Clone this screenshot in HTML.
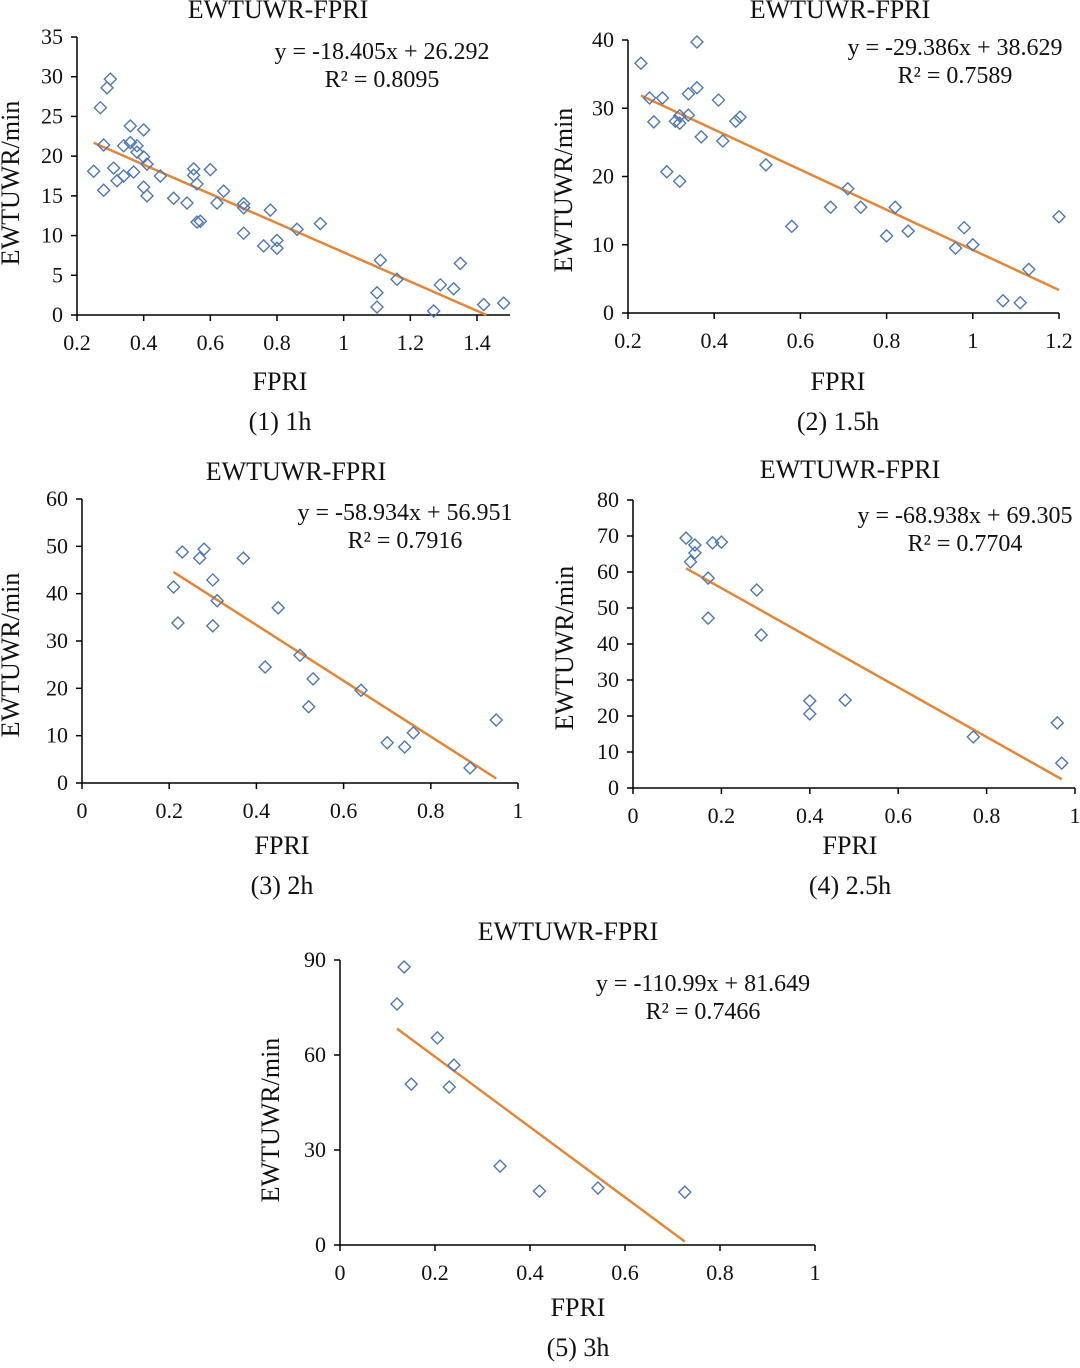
<!DOCTYPE html>
<html><head><meta charset="utf-8"><style>
html,body{margin:0;padding:0;background:#fff;}
svg text{font-family:"Liberation Serif",serif;fill:#111;}
</style></head><body>
<svg id="s" width="1080" height="1363" viewBox="0 0 1080 1363"></svg>
<script>
// Chart 1 (1h)
const x1 = [0.25,0.27,0.28,0.28,0.29,0.30,0.31,0.32,0.34,0.34,0.36,0.36,0.37,0.38,0.38,0.40,0.40,0.40,0.41,0.41,0.45,0.49,0.53,0.55,0.55,0.56,0.56,0.57,0.60,0.62,0.64,0.70,0.70,0.70,0.76,0.78,0.80,0.80,0.86,0.93,1.11,1.10,1.10,1.16,1.27,1.29,1.33,1.35,1.42,1.48];
const y1 = [18.1,26.1,21.4,15.7,28.6,29.7,18.5,16.9,21.3,17.5,23.8,21.7,18.0,21.3,20.5,23.3,19.9,16.1,15.0,19.0,17.5,14.7,14.1,18.4,17.6,11.7,16.5,11.8,18.3,14.1,15.6,10.3,14.0,13.5,8.7,13.2,9.4,8.4,10.8,11.5,6.9,2.8,1.0,4.5,0.5,3.8,3.3,6.5,1.3,1.5];
const xt1 = [0.2,0.4,0.6,0.8,1,1.2,1.4];
const yt1 = [0,5,10,15,20,25,30,35];
const fit1 = [-18.405, 26.292];
// Chart 2 (1.5h)
const x2 = [0.23,0.25,0.26,0.28,0.29,0.31,0.32,0.32,0.32,0.34,0.34,0.36,0.36,0.37,0.41,0.42,0.45,0.46,0.52,0.58,0.67,0.71,0.74,0.80,0.82,0.85,0.96,0.98,1.00,1.07,1.11,1.13,1.20];
const y2 = [36.6,31.5,28.0,31.5,20.7,28.1,28.9,27.8,19.3,32.1,29.0,33.0,39.7,25.8,31.2,25.2,28.1,28.7,21.7,12.7,15.5,18.2,15.5,11.3,15.5,12.0,9.5,12.5,10.0,1.8,1.5,6.4,14.1];
const xt2 = [0.2,0.4,0.6,0.8,1,1.2];
const yt2 = [0,10,20,30,40];
const fit2 = [-29.386, 38.629];
// Chart 3 (2h)
const x3 = [0.21,0.22,0.23,0.27,0.28,0.30,0.30,0.31,0.37,0.42,0.45,0.50,0.52,0.53,0.64,0.70,0.74,0.76,0.89,0.95];
const y3 = [41.4,33.8,48.8,47.5,49.4,42.9,33.2,38.5,47.5,24.5,37.0,27.0,16.1,22.0,19.6,8.5,7.6,10.6,3.2,13.3];
const xt3 = [0,0.2,0.4,0.6,0.8,1];
const yt3 = [0,10,20,30,40,50,60];
const fit3 = [-58.934, 56.951];
// Chart 4 (2.5h)
const x4 = [0.12,0.13,0.14,0.14,0.17,0.17,0.18,0.20,0.28,0.29,0.40,0.40,0.48,0.77,0.96,0.97];
const y4 = [69.4,62.8,67.5,65.3,58.3,47.2,68.1,68.3,55.0,42.5,20.6,24.2,24.4,14.2,18.1,6.9];
const xt4 = [0,0.2,0.4,0.6,0.8,1];
const yt4 = [0,10,20,30,40,50,60,70,80];
const fit4 = [-68.938, 69.305];
// Chart 5 (3h)
const x5 = [0.12,0.135,0.15,0.205,0.23,0.24,0.337,0.42,0.543,0.726];
const y5 = [76.1,87.8,50.8,65.4,49.9,56.8,24.9,17.0,18.0,16.7];
const xt5 = [0,0.2,0.4,0.6,0.8,1];
const yt5 = [0,30,60,90];
const fit5 = [-110.99, 81.649];

const NS="http://www.w3.org/2000/svg";
const svg=document.getElementById('s');
function el(tag,attrs,parent){const e=document.createElementNS(NS,tag);for(const k in attrs)e.setAttribute(k,attrs[k]);(parent||svg).appendChild(e);return e;}
function txt(parent,x,y,s,size,anchor,rot){const t=el('text',{x:x,y:y,'font-size':size,'text-anchor':anchor||'middle'},parent);if(rot)t.setAttribute('transform','rotate(-90 '+x+' '+y+')');t.textContent=s;return t;}

function chart(id,c){
  const g=el('g',{});
  
  
  const X=v=>c.px0+(v-c.xmin)*(c.px1-c.px0)/(c.xmax-c.xmin);
  const Y=v=>c.py0-(v-c.ymin)*(c.py0-c.py1)/(c.ymax-c.ymin);
  const axR=c.axR||c.px1;
  const ax=el('path',{d:`M${c.px0} ${c.py1} L${c.px0} ${c.py0} L${axR} ${c.py0}`,stroke:'#000','stroke-width':1.5,fill:'none'},g);
  
  
  c.yt.forEach(v=>{const y=Y(v);el('line',{x1:c.px0-6,x2:c.px0,y1:y,y2:y,stroke:'#000','stroke-width':1.5},g);
    const t=txt(g,c.px0-14,y+7,String(v),22,'end');});
  c.xt.forEach(v=>{const x=X(v);el('line',{x1:x,x2:x,y1:c.py0,y2:c.py0+6,stroke:'#000','stroke-width':1.5},g);
    const t=txt(g,x,c.py0+35,String(v),22,'middle');});
  let xb=Math.max(...c.xs); const x0=-c.fit[1]/c.fit[0]; if(xb>x0)xb=x0;
  let xaa=Math.min(...c.xs);
  const ln=el('line',{x1:X(xaa),y1:Y(c.fit[0]*xaa+c.fit[1]),x2:X(xb),y2:Y(c.fit[0]*xb+c.fit[1]),stroke:'#e2873a','stroke-width':2.5},g);
  
  
  c.xs.forEach((v,i)=>{const x=X(v),y=Y(c.ys[i]);
    const p=el('path',{d:`M${x} ${y-6} L${x+6} ${y} L${x} ${y+6} L${x-6} ${y} Z`,fill:'none',stroke:'#4f77b3','stroke-width':1.4},g);
    
    });
  let t;
  t=txt(g,c.title[0],c.title[1],'EWTUWR-FPRI',26);
  t=txt(g,c.eq[0],c.eq[1],c.eqs,24);
  t=txt(g,c.eq[0],c.eq[1]+28,c.r2,24);
  t=txt(g,c.yl[0],c.yl[1],'EWTUWR/min',26,'middle',true);
  t=txt(g,c.xl[0],c.xl[1],'FPRI',26);
  t=txt(g,c.xl[0],c.xl[1]+40,c.cap,26);
}
chart(1,{xs:x1,ys:y1,xt:xt1,yt:yt1,fit:fit1,xmin:0.2,xmax:1.4,px0:77,px1:477,axR:510,ymin:0,ymax:35,py0:315,py1:37,
  title:[278,18],eq:[382,59],eqs:'y = -18.405x + 26.292',r2:'R² = 0.8095',yl:[19,183],xl:[280,390],cap:'(1) 1h'});
chart(2,{xs:x2,ys:y2,xt:xt2,yt:yt2,fit:fit2,xmin:0.2,xmax:1.2,px0:628,px1:1059,ymin:0,ymax:40,py0:313,py1:40,
  title:[840,18],eq:[955,55],eqs:'y = -29.386x + 38.629',r2:'R² = 0.7589',yl:[572,190],xl:[838,390],cap:'(2) 1.5h'});
chart(3,{xs:x3,ys:y3,xt:xt3,yt:yt3,fit:fit3,xmin:0,xmax:1,px0:82,px1:518,ymin:0,ymax:60,py0:783,py1:499,
  title:[296,480],eq:[405,520],eqs:'y = -58.934x + 56.951',r2:'R² = 0.7916',yl:[19,655],xl:[282,854],cap:'(3) 2h'});
chart(4,{xs:x4,ys:y4,xt:xt4,yt:yt4,fit:fit4,xmin:0,xmax:1,px0:633,px1:1075,ymin:0,ymax:80,py0:788,py1:500,
  title:[850,478],eq:[965,523],eqs:'y = -68.938x + 69.305',r2:'R² = 0.7704',yl:[573,648],xl:[850,854],cap:'(4) 2.5h'});
chart(5,{xs:x5,ys:y5,xt:xt5,yt:yt5,fit:fit5,xmin:0,xmax:1,px0:340,px1:815,ymin:0,ymax:90,py0:1245,py1:960,
  title:[568,940],eq:[703,991],eqs:'y = -110.99x + 81.649',r2:'R² = 0.7466',yl:[279,1120],xl:[578,1316],cap:'(5) 3h'});
</script>
</body></html>
